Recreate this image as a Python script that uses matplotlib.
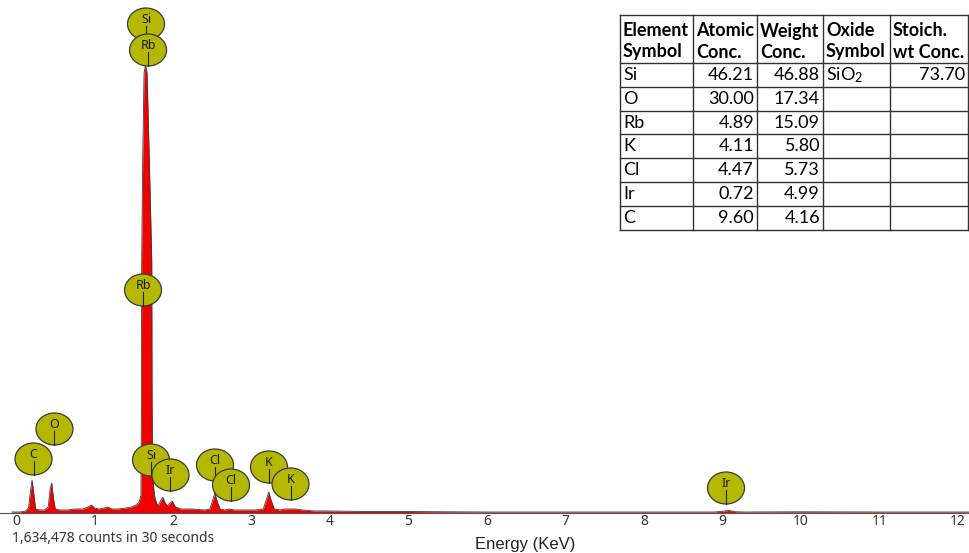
import matplotlib
matplotlib.use("Agg")
import matplotlib.pyplot as plt
from matplotlib.patches import Ellipse

# ---- spectrum (energy in keV, counts per channel) ----
energy_kev = [-0.05, 0.05, 0.12, 0.16, 0.185, 0.205, 0.225, 0.25, 0.30, 0.36,
              0.41, 0.435, 0.455, 0.475, 0.50, 0.56, 0.65, 0.75, 0.85, 0.92,
              0.96, 1.00, 1.06, 1.12, 1.17, 1.22, 1.30, 1.40, 1.47, 1.53,
              1.57, 1.592, 1.598, 1.601, 1.614, 1.631, 1.650, 1.669, 1.698, 1.729,
              1.733, 1.740, 1.755, 1.77, 1.79, 1.81, 1.84, 1.87, 1.90, 1.93,
              1.96, 1.99, 2.03, 2.10, 2.25, 2.40, 2.47, 2.51, 2.535, 2.56,
              2.60, 2.66, 2.72, 2.78, 2.90, 3.05, 3.15, 3.20, 3.22, 3.245,
              3.29, 3.36, 3.42, 3.48, 3.56, 3.65, 3.80, 4.0, 4.5, 5.0,
              5.5, 6.0, 7.0, 8.0, 8.9, 9.0, 9.08, 9.17, 9.3, 10.0,
              11.0, 12.15]
counts = [100, 100, 200, 500, 2200, 3300, 2000, 400, 300, 300,
          600, 2400, 3000, 1600, 400, 300, 300, 400, 400, 600,
          800, 500, 400, 500, 600, 400, 400, 500, 600, 800,
          1100, 1800, 12000, 25300, 35300, 44000, 44800, 44000, 35300, 25300,
          11300, 4000, 2400, 1500, 1000, 700, 1200, 1600, 1000, 700,
          1000, 1200, 600, 400, 400, 300, 400, 1400, 2000, 1200,
          400, 300, 400, 300, 300, 300, 400, 1600, 2100, 1400,
          400, 300, 400, 400, 400, 300, 200, 200, 150, 150,
          120, 100, 100, 100, 100, 180, 250, 120, 100, 120,
          100, 100]

x_ticks = list(range(0, 13))

# ---- peak identification labels ----
peak_symbols = ["Si", "Rb", "Rb", "C", "O", "Si", "Ir", "Cl", "Cl", "K", "K", "Ir"]
peak_energies = [1.656, 1.682, 1.618, 0.223, 0.490, 1.720, 1.968, 2.535, 2.739,
                 3.223, 3.497, 9.045]
label_heights = [48900, 46300, 22300, 5400, 8400, 5300, 3800, 4800, 2800,
                 4600, 2900, 2500]

# ---- quantification table ----
col_headers = [("Element", "Symbol"), ("Atomic", "Conc."), ("Weight", "Conc."),
               ("Oxide", "Symbol"), ("Stoich.", "wt Conc.")]
elements = ["Si", "O", "Rb", "K", "Cl", "Ir", "C"]
atomic_conc = ["46.21", "30.00", "4.89", "4.11", "4.47", "0.72", "9.60"]
weight_conc = ["46.88", "17.34", "15.09", "5.80", "5.73", "4.99", "4.16"]
oxide_symbol = [r"SiO$\mathregular{_2}$", "", "", "", "", "", ""]
stoich_wt_conc = ["73.70", "", "", "", "", "", ""]

W, H = 970, 553
fig = plt.figure(figsize=(W / 100, H / 100), dpi=100)
fig.patch.set_facecolor("white")

px_per_kev = 78.5
x0_px = 16
ax = fig.add_axes([0, 40 / H, 1, 513 / H])
ax.set_xlim(-x0_px / px_per_kev, (W - x0_px) / px_per_kev)
ax.set_ylim(0, 51300)
for s in ax.spines.values():
    s.set_visible(False)
ax.set_yticks([])
ax.set_xticks(x_ticks)
ax.set_xticklabels([str(t) for t in x_ticks], fontsize=10, color="#333333",
                   family="Noto Sans")
ax.tick_params(axis="x", length=0, pad=1)

ax.fill_between(energy_kev, 0, counts, color="#f00000", lw=0, zorder=2)
ax.plot(energy_kev, counts, color="#3a3a3a", lw=0.6, zorder=3, clip_on=False)
ax.axhline(0, color="#555555", lw=0.8, zorder=3, clip_on=False)

# label bubbles
ell_w = 37 / px_per_kev
ell_h = 3200
for i, (sym, e, yc) in enumerate(zip(peak_symbols, peak_energies, label_heights)):
    z = 10 + 3 * i
    ax.add_patch(Ellipse((e, yc), ell_w, ell_h, facecolor="#b4b800",
                         edgecolor="#3a3a3a", lw=0.9, zorder=z, clip_on=False))
    ax.plot([e, e], [yc - 200, yc - ell_h / 2], color="#222222", lw=0.8,
            zorder=z + 1, clip_on=False)
    ax.text(e, yc + 450, sym, ha="center", va="center", fontsize=9,
            family="Noto Sans", color="#1a1a1a", zorder=z + 2)

fig.text(12 / W, 1 - 538 / H, "1,634,478 counts in 30 seconds", ha="left",
         va="center", fontsize=10, family="Noto Sans", color="#333333")
fig.text(525 / W, 1 - 545 / H, "Energy (KeV)", ha="center", va="center",
         fontsize=12, family="Liberation Sans", color="#222222")

# table drawn in pixel coordinates
tax = fig.add_axes([0, 0, 1, 1], zorder=50)
tax.set_xlim(0, W)
tax.set_ylim(H, 0)
tax.axis("off")
tax.patch.set_visible(False)

col_edges = [620, 693, 757, 823, 890, 968]
row_edges = [15, 63, 87, 111, 134, 158, 182, 206, 230]
tax.add_patch(plt.Rectangle((col_edges[0], row_edges[0]),
                            col_edges[-1] - col_edges[0], row_edges[-1] - row_edges[0],
                            facecolor="white", edgecolor="none"))
for xe in col_edges:
    tax.plot([xe, xe], [row_edges[0], row_edges[-1]], color="#333333", lw=1.0)
for ye in row_edges:
    tax.plot([col_edges[0], col_edges[-1]], [ye, ye], color="#333333", lw=1.0)

tfont = dict(family="Lato", fontsize=13, color="black")
for c, (l1, l2) in enumerate(col_headers):
    tax.text(col_edges[c] + 3, 31, l1, ha="left", va="center", weight="bold", **tfont)
    tax.text(col_edges[c] + 3, 52, l2, ha="left", va="center", weight="bold", **tfont)

columns = [elements, atomic_conc, weight_conc, oxide_symbol, stoich_wt_conc]
aligns = ["left", "right", "right", "left", "right"]
for r in range(len(elements)):
    yc = (row_edges[r + 1] + row_edges[r + 2]) / 2
    for c, col in enumerate(columns):
        if not col[r]:
            continue
        if aligns[c] == "left":
            tax.text(col_edges[c] + 3, yc, col[r], ha="left", va="center", **tfont)
        else:
            tax.text(col_edges[c + 1] - 3, yc, col[r], ha="right", va="center", **tfont)

fig.savefig("out.png", dpi=100, facecolor="white")
